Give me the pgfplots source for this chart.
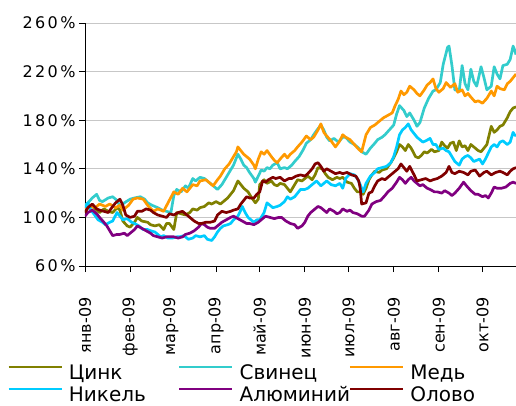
\documentclass[border=0pt]{standalone}
\usepackage{fontspec}
\setmainfont{DejaVu Sans}
\newfontfamily\spacedfont[LetterSpace=15]{DejaVu Sans}
\usepackage{pgfplots}
\pgfplotsset{compat=1.18}

\definecolor{cZinc}{HTML}{808000}
\definecolor{cLead}{HTML}{33CCCC}
\definecolor{cCopper}{HTML}{FF9900}
\definecolor{cNickel}{HTML}{00CCFF}
\definecolor{cAlum}{HTML}{800080}
\definecolor{cTin}{HTML}{800000}

\begin{document}
\begin{tikzpicture}[x=1pt,y=1pt]
\useasboundingbox (0,0) rectangle (516,405);
\begin{axis}[
  at={(85pt,139pt)}, anchor=south west,
  scale only axis, width=431pt, height=243pt,
  xmin=0, xmax=296, ymin=60, ymax=260,
  axis x line*=bottom, axis y line*=left,
  axis line style={black, line width=0.9pt},
  tick align=outside, major tick length=6pt,
  tick style={black, line width=0.9pt},
  xtick={0,31,59,90,120,151,181,212,243,273},
  xticklabels={янв-09,фев-09,мар-09,апр-09,май-09,июн-09,июл-09,авг-09,сен-09,окт-09},
  xticklabel style={rotate=90, anchor=east, font=\fontsize{16}{16}\selectfont},
  xticklabel shift=22pt,
  ytick={60,100,140,180,220,260},
  yticklabels={60\%,100\%,140\%,180\%,220\%,260\%},
  yticklabel style={font=\spacedfont\fontsize{16}{16}\selectfont},
  ymajorgrids, grid style={black!22, line width=0.9pt},
  every axis plot/.append style={line width=2.7pt, line join=round, no markers},
  legend columns=3,
  legend cell align=left,
  legend image code/.code={\draw[#1] (0pt,7.3pt) -- (53pt,7.3pt);},
  legend style={at={(axis description cs:-0.181,-0.399)}, anchor=north west,
    draw=none, fill=none, inner sep=0pt, row sep=0pt,
    font=\fontsize{20}{20}\selectfont,
    nodes={inner sep=0pt, text height=16pt, text depth=6pt},
    /tikz/every odd column/.append style={column sep=6pt}},
]
% Zinc
\addplot[color=cZinc] table {
x y
0 104
2 108
5 109
8 106
10 104
13 107
16 105
19 104
22 108
24 106
26 97
29 93
31 92
34 96
36 100
39 97
43 96
45 94
48 93
51 94
54 90
56 95
58 95
61 90
63 104
66 103
69 102
72 104
74 107
77 106
79 108
82 109
85 112
87 111
90 113
93 111
96 114
98 116
100 119
102 122
105 130
107 127
109 124
112 121
114 117
117 112
119 115
120 127
123 131
125 128
128 130
130 127
132 126
134 128
137 127
139 124
141 121
144 127
146 131
149 130
151 132
153 134
156 131
158 135
160 141
163 140
165 136
167 133
170 131
173 133
175 132
177 133
180 129
183 128
185 124
187 121
189 121
191 119
193 124
195 131
197 135
199 138
202 137
204 139
207 140
210 145
212 149
214 154
216 160
218 158
220 155
222 160
224 157
227 150
229 149
231 151
233 154
235 153
238 156
240 154
243 155
245 162
247 159
249 157
251 161
253 162
255 155
257 163
259 158
261 159
263 155
265 160
268 157
270 155
272 154
274 157
276 160
279 175
281 170
283 172
285 175
287 176
290 182
292 187
294 190
296 191
};
\addlegendentry{\makebox[109pt][l]{Цинк}}
% Lead
\addplot[color=cLead] table {
x y
0 110
2 112
5 116
8 119
10 114
12 113
16 116
19 117
22 114
24 109
27 112
31 115
34 116
38 117
41 115
43 112
46 110
50 108
53 106
56 105
59 104
61 118
63 123
66 121
69 126
71 124
74 132
76 130
79 133
82 132
85 129
87 127
91 123
94 127
96 131
99 137
102 143
105 152
107 148
109 143
111 141
113 137
116 132
117 129
119 134
121 139
123 138
125 141
127 140
129 143
132 145
134 140
137 141
139 140
142 143
144 146
147 150
150 156
152 161
155 164
157 168
160 173
162 176
164 172
166 166
168 163
171 165
174 162
177 166
179 166
182 162
185 160
188 157
190 154
193 152
196 157
199 161
201 164
204 166
206 168
209 172
212 176
214 185
216 192
219 188
221 183
223 186
226 180
228 175
230 178
233 190
236 198
239 204
241 205
244 211
246 226
249 240
250 241
252 225
254 205
257 204
259 225
261 210
263 205
265 222
267 212
269 208
272 224
274 215
276 205
279 208
281 224
283 218
285 214
287 225
290 226
292 230
294 241
295 238
296 234
};
\addlegendentry{\makebox[109pt][l]{Свинец}}
% Copper
\addplot[color=cCopper] table {
x y
0 107
3 110
7 108
10 111
14 109
17 111
21 108
24 110
26 106
30 110
33 115
36 116
40 115
43 110
47 105
50 107
54 105
57 112
61 121
64 119
67 124
70 121
74 127
77 126
79 130
83 131
86 128
88 126
91 131
93 134
96 140
99 144
102 150
104 154
105 158
107 155
109 152
111 150
113 148
116 143
117 140
119 148
121 154
123 152
125 155
128 150
130 147
132 145
134 148
137 152
139 149
141 152
144 155
146 158
149 162
152 167
155 164
157 166
160 172
162 177
164 170
166 167
169 163
172 158
175 163
177 168
179 166
182 164
185 160
188 156
190 154
193 168
196 174
199 176
201 178
205 182
208 184
211 186
213 192
215 197
217 204
219 201
221 203
223 208
226 205
228 202
230 200
233 205
235 209
237 211
239 214
241 206
243 203
246 206
248 211
251 207
254 210
256 203
259 205
261 200
263 202
265 199
268 195
270 196
273 194
276 198
279 204
281 200
283 208
285 206
288 205
290 210
292 212
294 215
296 218
};
\addlegendentry{Медь}
% Nickel
\addplot[color=cNickel] table {
x y
0 108
2 112
4 106
6 103
9 98
12 96
14 94
17 96
19 97
22 104
24 101
26 98
29 99
32 96
34 95
37 93
40 90
43 90
45 89
48 88
52 84
54 85
57 83
60 83
63 84
65 84
68 85
71 82
74 83
76 85
79 84
82 85
84 82
87 81
89 84
91 88
93 91
95 93
98 94
100 95
102 98
105 101
107 106
108 109
110 104
112 100
114 98
116 96
118 98
120 98
123 104
125 112
127 110
129 108
132 109
134 110
137 113
139 117
141 115
144 117
146 120
148 123
151 123
153 124
156 127
159 130
162 126
164 128
166 130
169 127
172 126
175 128
177 124
179 132
182 136
185 135
187 132
189 127
191 121
193 128
196 134
199 137
201 140
204 141
207 142
210 145
212 150
214 158
216 168
218 172
220 174
222 177
224 172
226 169
228 166
230 164
232 162
234 163
237 165
239 160
241 160
243 156
246 157
248 155
250 154
252 150
254 146
257 143
259 148
261 150
263 151
265 149
267 146
269 147
271 148
273 144
275 148
277 153
279 158
281 160
283 158
285 162
287 163
290 160
292 162
294 170
295 168
296 167
};
\addlegendentry{\makebox[109pt][l]{Никель}}
% Aluminium
\addplot[color=cAlum] table {
x y
0 101
2 104
5 106
8 103
10 100
13 96
15 93
17 89
19 85
22 86
24 86
27 87
29 85
31 87
34 90
36 93
39 91
42 89
45 87
47 85
50 84
53 83
56 84
58 84
61 84
64 83
67 84
69 86
72 87
75 89
78 92
80 95
82 94
84 92
86 91
89 91
91 93
94 96
97 98
100 100
102 101
105 99
108 97
111 95
113 95
116 94
119 96
122 99
124 101
127 100
130 99
133 100
135 100
138 97
141 95
144 94
146 91
149 93
151 96
153 101
155 104
157 106
160 109
162 108
164 106
166 104
168 107
171 105
173 103
175 104
177 107
180 105
182 106
184 104
187 103
190 101
192 101
195 106
197 111
200 113
203 114
206 118
208 121
211 124
214 129
216 133
218 131
220 128
222 131
224 133
226 130
228 128
230 126
232 127
235 124
237 123
240 121
242 121
245 120
247 122
250 120
252 118
254 120
257 124
260 129
262 126
265 122
268 119
270 119
273 117
275 118
277 116
279 120
281 125
283 124
286 124
289 125
292 128
294 129
296 128
};
\addlegendentry{\makebox[109pt][l]{Алюминий}}
% Tin
\addplot[color=cTin] table {
x y
0 104
2 108
5 111
8 107
10 106
13 105
16 104
19 109
21 112
24 115
26 110
28 102
31 100
34 101
36 105
39 105
42 107
45 106
47 104
50 102
53 101
56 100
58 103
61 102
64 104
67 105
69 103
72 100
75 97
78 95
80 95
83 96
86 96
89 97
91 102
94 105
97 104
100 105
102 106
105 107
107 111
109 114
111 117
113 116
116 116
118 119
120 121
122 130
124 129
126 131
129 133
131 132
134 133
137 130
140 132
142 132
145 134
148 135
151 134
153 136
156 140
158 144
160 145
162 142
164 138
166 140
169 138
172 136
175 137
177 136
180 137
183 135
186 134
188 130
189 124
190 111
193 112
195 120
197 121
199 126
201 130
204 132
206 131
209 134
212 137
215 140
217 144
219 141
221 138
223 142
226 135
228 130
231 131
234 132
237 130
239 131
242 132
245 134
248 137
250 142
252 137
254 136
257 138
260 137
263 135
265 138
268 139
271 134
274 137
276 138
279 135
282 137
285 138
287 137
290 135
292 138
294 140
296 141
};
\addlegendentry{Олово}
\end{axis}
\end{tikzpicture}
\end{document}
